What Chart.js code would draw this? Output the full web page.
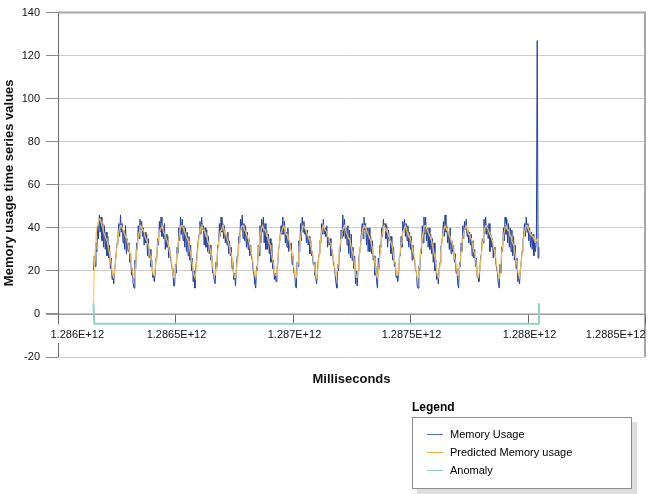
<!DOCTYPE html>
<html>
<head>
<meta charset="utf-8">
<script src="https://cdn.jsdelivr.net/npm/chart.js@4/dist/chart.umd.min.js"></script>
<style>
  body { margin: 0; background: #fff; font-family: "Liberation Sans", Arial, sans-serif; }
  #wrap { position: relative; width: 652px; height: 494px; }
  #chart { position: absolute; left: 0; top: 0; }
  .legend-title { position: absolute; left: 412px; top: 400px; font-weight: bold; font-size: 12px; color: #000; }
  .legend-box { position: absolute; left: 412px; top: 417px; width: 218px; height: 70px;
    border: 1px solid #8c8c8c; background: #fff; box-shadow: 5px 5px 0 #dedede; }
  .legend-item { position: absolute; left: 14px; font-size: 11px; color: #000; line-height: 12px; }
  .legend-item span { display: inline-block; width: 16px; height: 1px; vertical-align: middle; margin-right: 7px; position: relative; top: -1px; }
</style>
</head>
<body>
<div id="wrap">
  <canvas id="chart" width="652" height="494"></canvas>
  <div class="legend-title">Legend</div>
  <div class="legend-box">
    <div class="legend-item" style="top:10px"><span style="background:#5a6bc2"></span>Memory Usage</div>
    <div class="legend-item" style="top:28px"><span style="background:#f2b534"></span>Predicted Memory usage</div>
    <div class="legend-item" style="top:46px"><span style="background:#8fd1c3"></span>Anomaly</div>
  </div>
</div>
<script>
var startTime = 1286151000000;
var sampleMs = 3600000;

// one row per day, hourly samples
var memoryUsage = [
  20, 27, 22, 33, 29, 41, 35, 46, 38, 45, 34, 42, 31, 41, 30, 38, 27, 36, 26, 32, 21, 26, 16, 19,
  14, 20, 24, 29, 33, 36, 42, 36, 46, 38, 42, 33, 39, 30, 41, 28, 35, 29, 33, 24, 28, 18, 21, 14,
  12, 25, 21, 33, 30, 41, 35, 44, 39, 43, 36, 40, 32, 38, 33, 37, 27, 35, 26, 30, 22, 25, 17, 18,
  15, 19, 26, 27, 35, 32, 43, 38, 45, 36, 41, 35, 42, 30, 37, 31, 36, 26, 31, 27, 24, 21, 19, 13,
  13, 23, 19, 31, 28, 40, 34, 45, 37, 44, 34, 41, 31, 40, 29, 38, 27, 36, 25, 32, 20, 26, 15, 20,
  12, 21, 25, 30, 34, 37, 43, 37, 45, 39, 41, 32, 40, 31, 39, 29, 36, 28, 32, 25, 27, 19, 20, 15,
  14, 24, 22, 32, 31, 42, 36, 45, 38, 42, 35, 41, 33, 37, 32, 38, 28, 34, 27, 31, 21, 24, 16, 19,
  13, 20, 27, 28, 36, 33, 44, 39, 46, 35, 42, 34, 41, 31, 38, 30, 35, 27, 32, 26, 25, 20, 18, 14,
  12, 22, 20, 32, 27, 41, 33, 44, 38, 45, 33, 42, 30, 39, 30, 37, 28, 35, 24, 33, 21, 25, 16, 19,
  15, 21, 23, 30, 32, 37, 41, 37, 45, 37, 43, 33, 38, 31, 40, 29, 34, 30, 33, 23, 27, 19, 20, 13,
  12, 24, 22, 34, 29, 42, 34, 45, 38, 43, 37, 39, 33, 39, 32, 36, 28, 34, 27, 29, 23, 24, 18, 17,
  14, 20, 25, 28, 34, 33, 42, 37, 44, 37, 40, 36, 41, 31, 36, 32, 35, 27, 30, 28, 23, 22, 18, 14,
  12, 23, 20, 31, 29, 39, 35, 46, 36, 44, 35, 40, 32, 41, 28, 39, 26, 37, 25, 31, 21, 27, 14, 20,
  13, 20, 26, 29, 32, 38, 42, 35, 45, 39, 42, 32, 40, 29, 40, 29, 36, 28, 34, 25, 27, 18, 22, 15,
  12, 26, 21, 32, 31, 40, 36, 44, 40, 42, 35, 41, 31, 39, 34, 36, 28, 36, 25, 31, 22, 24, 17, 18,
  15, 18, 27, 27, 36, 31, 43, 39, 44, 36, 42, 34, 41, 31, 38, 30, 36, 25, 32, 26, 25, 20, 20, 13,
  12, 22, 20, 30, 28, 41, 33, 45, 37, 45, 34, 40, 31, 40, 30, 37, 28, 35, 24, 33, 20, 25, 16, 19,
  14, 21, 24, 31, 33, 36, 43, 36, 46, 38, 41, 33, 38, 30, 40, 28, 34, 29, 32, 24, 28, 19, 21, 14,
  12, 24, 22, 33, 29, 41, 35, 43, 39, 44, 36, 39, 33, 38, 32, 37, 27, 34, 26, 30, 22, 26, 17, 17,
  15, 20, 26, 28, 35, 33, 44, 37, 45, 37, 41, 35, 42, 29, 37, 31, 35, 26, 31, 28, 24, 21, 19, 14,
  12, 23, 19, 31, 29, 40, 34, 45, 37, 44, 33, 42, 31, 40, 29, 39, 27, 36, 25, 32, 21, 26, 15, 19,
  14, 20, 24, 29, 33, 37, 42, 36, 45, 38, 42, 34, 40, 31, 38, 30, 37, 27, 33, 29, 35, 127, 26, 31
];

var predictedUsage = [
   5, 22, 30, 36, 40, 42, 43, 44, 44, 43, 41, 40, 38, 37, 36, 35, 34, 32, 30, 28, 26, 23, 20, 18,
  17, 20, 24, 28, 32, 35, 38, 40, 41, 41, 40, 39, 38, 37, 36, 35, 34, 32, 30, 28, 26, 23, 20, 18,
  17, 19, 23, 28, 32, 36, 38, 40, 41, 40, 39, 39, 38, 36, 36, 34, 33, 32, 30, 27, 25, 23, 20, 18,
  18, 21, 25, 29, 33, 35, 38, 39, 40, 41, 40, 38, 37, 37, 35, 35, 33, 31, 29, 28, 26, 22, 19, 17,
  17, 20, 24, 28, 32, 35, 38, 40, 41, 41, 40, 39, 38, 37, 36, 35, 34, 32, 30, 28, 26, 23, 20, 18,
  17, 19, 23, 28, 32, 36, 38, 40, 41, 40, 39, 39, 38, 36, 36, 34, 33, 32, 30, 27, 25, 23, 20, 18,
  18, 21, 25, 29, 33, 35, 38, 39, 40, 41, 40, 38, 37, 37, 35, 35, 33, 31, 29, 28, 26, 22, 19, 17,
  17, 20, 24, 28, 32, 35, 38, 40, 41, 41, 40, 39, 38, 37, 36, 35, 34, 32, 30, 28, 26, 23, 20, 18,
  17, 19, 23, 28, 32, 36, 38, 40, 41, 40, 39, 39, 38, 36, 36, 34, 33, 32, 30, 27, 25, 23, 20, 18,
  18, 21, 25, 29, 33, 35, 38, 39, 40, 41, 40, 38, 37, 37, 35, 35, 33, 31, 29, 28, 26, 22, 19, 17,
  17, 20, 24, 28, 32, 35, 38, 40, 41, 41, 40, 39, 38, 37, 36, 35, 34, 32, 30, 28, 26, 23, 20, 18,
  17, 19, 23, 28, 32, 36, 38, 40, 41, 40, 39, 39, 38, 36, 36, 34, 33, 32, 30, 27, 25, 23, 20, 18,
  18, 21, 25, 29, 33, 35, 38, 39, 40, 41, 40, 38, 37, 37, 35, 35, 33, 31, 29, 28, 26, 22, 19, 17,
  17, 20, 24, 28, 32, 35, 38, 40, 41, 41, 40, 39, 38, 37, 36, 35, 34, 32, 30, 28, 26, 23, 20, 18,
  17, 19, 23, 28, 32, 36, 38, 40, 41, 40, 39, 39, 38, 36, 36, 34, 33, 32, 30, 27, 25, 23, 20, 18,
  18, 21, 25, 29, 33, 35, 38, 39, 40, 41, 40, 38, 37, 37, 35, 35, 33, 31, 29, 28, 26, 22, 19, 17,
  17, 20, 24, 28, 32, 35, 38, 40, 41, 41, 40, 39, 38, 37, 36, 35, 34, 32, 30, 28, 26, 23, 20, 18,
  17, 19, 23, 28, 32, 36, 38, 40, 41, 40, 39, 39, 38, 36, 36, 34, 33, 32, 30, 27, 25, 23, 20, 18,
  18, 21, 25, 29, 33, 35, 38, 39, 40, 41, 40, 38, 37, 37, 35, 35, 33, 31, 29, 28, 26, 22, 19, 17,
  17, 20, 24, 28, 32, 35, 38, 40, 41, 41, 40, 39, 38, 37, 36, 35, 34, 32, 30, 28, 26, 23, 20, 18,
  17, 19, 23, 28, 32, 36, 38, 40, 41, 40, 39, 39, 38, 36, 36, 34, 33, 32, 30, 27, 25, 23, 20, 18,
  17, 20, 24, 28, 32, 35, 38, 40, 41, 41, 40, 39, 38, 37, 37, 36, 36, 35, 35, 35, 34, 34, 35, 35
];

var anomalySamples = [0, 1, 526, 527];
var anomalyValues = [5, -4.5, -4.5, 5];

var xTickValues = [1.286e12, 1.2865e12, 1.287e12, 1.2875e12, 1.288e12, 1.2885e12];
var xTickLabels = ["1.286E+12", "1.2865E+12", "1.287E+12", "1.2875E+12", "1.288E+12", "1.2885E+12"];

var toPoints = function(values) {
  return values.map(function(v, i) { return { x: startTime + i * sampleMs, y: v }; });
};

var font = '"Liberation Sans", Arial, sans-serif';

var axisFrame = {
  id: 'axisFrame',
  beforeDatasetsDraw: function(chart) {
    var ctx = chart.ctx, a = chart.chartArea, x = chart.scales.x, y = chart.scales.y;
    var y0 = Math.round(y.getPixelForValue(0)) + 0.5;
    var left = Math.round(a.left) + 0.5;
    var line = function(x1, y1, x2, y2) {
      ctx.beginPath(); ctx.moveTo(x1, y1); ctx.lineTo(x2, y2); ctx.stroke();
    };
    ctx.save();
    ctx.strokeStyle = '#a8a8a8';
    ctx.lineWidth = 2;
    ctx.beginPath();
    ctx.moveTo(a.left, a.top);
    ctx.lineTo(a.right, a.top);
    ctx.lineTo(a.right, a.bottom);
    ctx.stroke();

    ctx.lineWidth = 1;
    ctx.strokeStyle = '#9a9a9a';
    line(a.left - 12, y0, a.right, y0);
    ctx.strokeStyle = '#6e6e6e';
    line(left, a.top, left, y0);
    line(left, a.bottom - 14, left, a.bottom);

    ctx.fillStyle = '#111';
    ctx.font = '11px ' + font;
    ctx.textBaseline = 'alphabetic';
    xTickValues.forEach(function(v, i) {
      var px = Math.round(x.getPixelForValue(v)) + 0.5;
      ctx.strokeStyle = '#6e6e6e';
      line(px, y0, px, y0 + 10);
      if (i === 0) { ctx.textAlign = 'left'; ctx.fillText(xTickLabels[i], px - 8, y0 + 23); }
      else if (i === xTickValues.length - 1) { ctx.textAlign = 'right'; ctx.fillText(xTickLabels[i], px, y0 + 23); }
      else { ctx.textAlign = 'center'; ctx.fillText(xTickLabels[i], px + 1, y0 + 23); }
    });

    ctx.font = 'bold 13px ' + font;
    ctx.textAlign = 'center';
    ctx.textBaseline = 'middle';
    ctx.fillText('Milliseconds', (a.left + a.right) / 2, 379);
    ctx.translate(9, (a.top + a.bottom) / 2 - 2);
    ctx.rotate(-Math.PI / 2);
    ctx.fillText('Memory usage time series values', 0, 0);
    ctx.restore();
  }
};

new Chart(document.getElementById('chart'), {
  type: 'line',
  data: {
    datasets: [
      { label: 'Memory Usage', data: toPoints(memoryUsage), borderColor: '#24409f', borderWidth: 1, order: 2 },
      { label: 'Predicted Memory usage', data: toPoints(predictedUsage), borderColor: 'rgba(252, 200, 90, 0.9)', borderWidth: 1.3, order: 1 },
      { label: 'Anomaly', data: anomalySamples.map(function(s, i) { return { x: startTime + s * sampleMs, y: anomalyValues[i] }; }),
        borderColor: '#8fd1c3', borderWidth: 2, order: 0 }
    ]
  },
  options: {
    responsive: false,
    animation: false,
    layout: { padding: { left: 0, right: 7, top: 9, bottom: 137 } },
    elements: { point: { radius: 0 }, line: { tension: 0 } },
    plugins: { legend: { display: false }, tooltip: { enabled: false } },
    scales: {
      x: { type: 'linear', min: 1.286e12, max: 1.2885e12, display: false },
      y: {
        min: -20, max: 140,
        ticks: { stepSize: 20, padding: 6, color: '#111', font: { size: 11, family: font } },
        grid: { color: '#cdcdcd', tickColor: '#8a8a8a', tickLength: 12 },
        border: { display: false },
        afterFit: function(s) { s.width = 58; }
      }
    }
  },
  plugins: [axisFrame]
});
</script>
</body>
</html>
